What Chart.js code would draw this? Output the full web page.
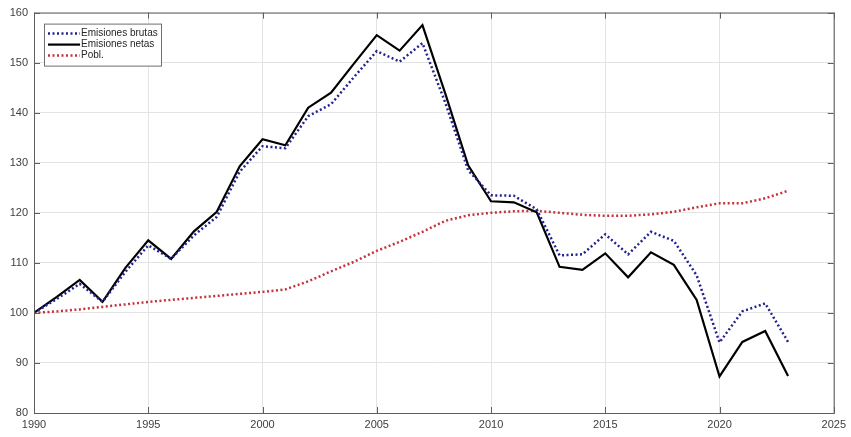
<!DOCTYPE html>
<html>
<head>
<meta charset="utf-8">
<script src="https://cdn.jsdelivr.net/npm/chart.js@4/dist/chart.umd.min.js"></script>
<style>
  html, body { margin: 0; padding: 0; background: #fff; }
  #wrap { width: 851px; height: 437px; }
</style>
</head>
<body>
<div id="wrap"><canvas id="chart" width="851" height="437"></canvas></div>
<script>
const years = [1990, 1991, 1992, 1993, 1994, 1995, 1996, 1997, 1998, 1999,
  2000, 2001, 2002, 2003, 2004, 2005, 2006, 2007, 2008, 2009,
  2010, 2011, 2012, 2013, 2014, 2015, 2016, 2017, 2018, 2019,
  2020, 2021, 2022, 2023];

const brutas = [100, 102.8, 105.8, 102.2, 108.2, 113.5, 110.8, 115.5, 119.2, 128.2,
  133.3, 132.9, 139.3, 141.7, 147.1, 152.3, 150.2, 153.9, 142.0, 128.5,
  123.5, 123.4, 120.7, 111.5, 111.7, 115.7, 111.7, 116.2, 114.4, 107.5,
  94.1, 100.3, 101.9, 94.2];

const netas = [100, 103.2, 106.6, 102.2, 109.0, 114.5, 110.8, 116.3, 120.2, 129.3,
  134.7, 133.5, 141.0, 144.0, 149.8, 155.5, 152.4, 157.5, 143.8, 129.5,
  122.3, 122.1, 120.1, 109.2, 108.6, 111.9, 107.1, 112.1, 109.6, 102.6,
  87.3, 94.2, 96.4, 87.4];

const pobl = [100, 100.3, 100.7, 101.2, 101.7, 102.2, 102.6, 103.0, 103.4, 103.8,
  104.2, 104.7, 106.3, 108.3, 110.2, 112.4, 114.2, 116.2, 118.4, 119.5,
  120.0, 120.3, 120.4, 120.0, 119.6, 119.4, 119.4, 119.7, 120.2, 121.1,
  121.9, 121.9, 122.9, 124.4];

const seriesLabels = ["Emisiones brutas", "Emisiones netas", "Pobl."];
const xTicks = [1990, 1995, 2000, 2005, 2010, 2015, 2020, 2025];
const yTicks = [80, 90, 100, 110, 120, 130, 140, 150, 160];

const pts = vals => years.map((y, i) => ({ x: y, y: vals[i] }));

// box round the plot plus inward tick marks, like matlab axes
const boxPlugin = {
  id: "box",
  afterDraw(chart) {
    const { ctx, chartArea: a, scales } = chart;
    ctx.save();
    ctx.strokeStyle = "#5e5e5e";
    ctx.lineWidth = 1;
    ctx.strokeRect(a.left + 0.5, a.top + 0.5, a.right - a.left, a.bottom - a.top);
    ctx.beginPath();
    xTicks.forEach(v => {
      const x = Math.round(scales.x.getPixelForValue(v)) + 0.5;
      ctx.moveTo(x, a.bottom); ctx.lineTo(x, a.bottom - 6);
      ctx.moveTo(x, a.top); ctx.lineTo(x, a.top + 6);
    });
    yTicks.forEach(v => {
      const y = Math.round(scales.y.getPixelForValue(v)) + 0.5;
      ctx.moveTo(a.left, y); ctx.lineTo(a.left + 6, y);
      ctx.moveTo(a.right, y); ctx.lineTo(a.right - 6, y);
    });
    ctx.stroke();
    ctx.restore();
  }
};

// legend drawn inside the axes, top left
const insideLegend = {
  id: "insideLegend",
  afterDraw(chart) {
    const { ctx, chartArea: a } = chart;
    const x0 = a.left + 10, y0 = a.top + 11;
    const w = 117, h = 42, row = 11;
    ctx.save();
    ctx.fillStyle = "#fff";
    ctx.fillRect(x0, y0, w, h);
    ctx.strokeStyle = "#6e6e6e";
    ctx.lineWidth = 1;
    ctx.strokeRect(x0 + 0.5, y0 + 0.5, w, h);
    ctx.font = "10px 'Liberation Sans', Arial, sans-serif";
    ctx.textBaseline = "middle";
    chart.data.datasets.forEach((ds, i) => {
      const y = y0 + 10 + i * row;
      ctx.beginPath();
      ctx.strokeStyle = ds.borderColor;
      ctx.lineWidth = ds.borderWidth;
      ctx.setLineDash(ds.borderDash || []);
      ctx.moveTo(x0 + 4, y);
      ctx.lineTo(x0 + 36, y);
      ctx.stroke();
      ctx.setLineDash([]);
      ctx.fillStyle = "#262626";
      ctx.fillText(ds.label, x0 + 37, y);
    });
    ctx.restore();
  }
};

new Chart(document.getElementById("chart").getContext("2d"), {
  type: "line",
  data: {
    datasets: [
      {
        label: seriesLabels[0],
        data: pts(brutas),
        borderColor: "#23238f",
        borderWidth: 2.5,
        borderDash: [2, 2.5],
        pointRadius: 0,
        tension: 0,
      },
      {
        label: seriesLabels[1],
        data: pts(netas),
        borderColor: "#000000",
        borderWidth: 2.2,
        pointRadius: 0,
        tension: 0,
      },
      {
        label: seriesLabels[2],
        data: pts(pobl),
        borderColor: "#c4323c",
        borderWidth: 2.5,
        borderDash: [2, 2.5],
        pointRadius: 0,
        tension: 0,
      },
    ],
  },
  options: {
    responsive: false,
    animation: false,
    layout: { padding: { left: 0, right: 13, top: 11, bottom: 0 } },
    plugins: {
      legend: { display: false },
      tooltip: { enabled: false },
    },
    scales: {
      x: {
        type: "linear",
        min: 1990,
        max: 2025,
        afterBuildTicks: s => { s.ticks = xTicks.map(v => ({ value: v })); },
        afterFit: s => { s.height = 24; },
        grid: { color: "#e3e3e3", drawTicks: false },
        border: { display: false },
        ticks: {
          padding: 5,
          color: "#404040",
          font: { family: "'Liberation Sans', Arial, sans-serif", size: 11 },
          callback: v => String(v),
        },
      },
      y: {
        min: 80,
        max: 160,
        afterBuildTicks: s => { s.ticks = yTicks.map(v => ({ value: v })); },
        afterFit: s => { s.width = 34; },
        grid: { color: "#e3e3e3", drawTicks: false },
        border: { display: false },
        ticks: {
          padding: 6,
          color: "#404040",
          font: { family: "'Liberation Sans', Arial, sans-serif", size: 11 },
        },
      },
    },
  },
  plugins: [boxPlugin, insideLegend],
});
</script>
</body>
</html>
